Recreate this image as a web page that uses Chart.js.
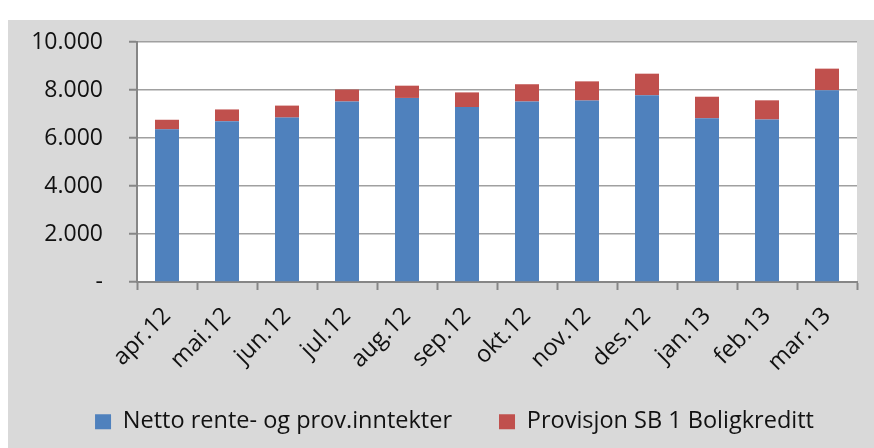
<!DOCTYPE html>
<html>
<head>
<meta charset="utf-8">
<script src="https://cdn.jsdelivr.net/npm/chart.js@4"></script>
<style>
  body { margin: 0; background: #ffffff; }
  #wrap { width: 874px; height: 448px; position: relative; }
</style>
</head>
<body>
<div id="wrap"><canvas id="chart"></canvas></div>
<script>
// Måneder og verdier
const months = ['apr.12', 'mai.12', 'jun.12', 'jul.12', 'aug.12', 'sep.12',
                'okt.12', 'nov.12', 'des.12', 'jan.13', 'feb.13', 'mar.13'];
const nettoRente = [6360, 6700, 6850, 7520, 7670, 7290, 7520, 7560, 7780, 6820, 6770, 7990];
const provisjonSB1 = [400, 490, 500, 500, 510, 610, 720, 800, 900, 900, 800, 900];
const yTickLabels = ['-', '2.000', '4.000', '6.000', '8.000', '10.000'];

const FONT = "'Open Sans', 'DejaVu Sans', sans-serif";

// grå bakgrunn + hvitt plottområde, og plassering av legenden
const bgPlugin = {
  id: 'bg',
  afterLayout(chart) {
    // legenden står litt til høyre for midten og høyere opp
    const lg = chart.legend;
    lg.left += 22;
    lg.right += 22;
    lg.top -= 19;
    lg.bottom -= 19;
  },
  beforeDraw(chart) {
    const { ctx, chartArea } = chart;
    ctx.save();
    ctx.fillStyle = '#d9d9d9';
    ctx.fillRect(8, 20, chart.width - 8, chart.height - 20);
    ctx.fillStyle = '#ffffff';
    ctx.fillRect(chartArea.left, chartArea.top, chartArea.right - chartArea.left, chartArea.bottom - chartArea.top);
    ctx.restore();
  }
};

new Chart(document.getElementById('chart'), {
  type: 'bar',
  data: {
    labels: months,
    datasets: [{
      label: 'Netto rente- og prov.inntekter',
      data: nettoRente,
      backgroundColor: '#4f81bd',
      borderWidth: 0
    }, {
      label: 'Provisjon SB 1 Boligkreditt',
      data: provisjonSB1,
      backgroundColor: '#c0504d',
      borderWidth: 0
    }]
  },
  options: {
    responsive: true,
    maintainAspectRatio: false,
    animation: false,
    barPercentage: 0.4,
    categoryPercentage: 1.0,
    layout: { padding: { left: 8, top: 42, right: 17, bottom: -14.5 } },
    scales: {
      x: {
        stacked: true,
        grid: {
          offset: true,
          drawOnChartArea: false,
          drawTicks: true,
          tickLength: 8,
          tickWidth: 2,
          tickColor: '#868686'
        },
        border: { color: '#868686', width: 2 },
        ticks: {
          color: '#111111',
          font: { family: FONT, size: 23.5 },
          minRotation: 45,
          maxRotation: 45,
          autoSkip: false,
          padding: 12
        },
        afterFit(scale) { scale.height = 100; }
      },
      y: {
        stacked: true,
        min: 0,
        max: 10000,
        grid: {
          color: '#a0a0a0',
          lineWidth: 1.5,
          tickLength: 8,
          tickColor: '#868686',
          tickWidth: 2
        },
        border: { color: '#868686', width: 2 },
        ticks: {
          stepSize: 2000,
          color: '#111111',
          font: { family: FONT, size: 23 },
          padding: 26,
          callback: (value) => yTickLabels[Math.round(value / 2000)]
        },
        afterFit(scale) { scale.width = 129; }
      }
    },
    plugins: {
      legend: {
        position: 'bottom',
        labels: {
          color: '#111111',
          font: { family: FONT, size: 23.5 },
          boxWidth: 16,
          boxHeight: 15,
          padding: 47
        }
      },
      tooltip: { enabled: false }
    }
  },
  plugins: [bgPlugin]
});
</script>
</body>
</html>
